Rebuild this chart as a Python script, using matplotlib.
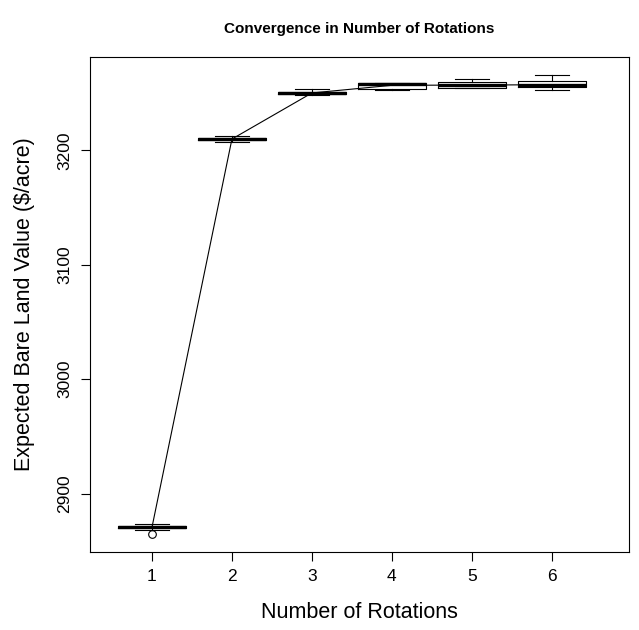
import numpy as np
import matplotlib
matplotlib.use("Agg")
import matplotlib.pyplot as plt

plt.rcParams['font.family'] = ['Liberation Sans', 'DejaVu Sans']

rotations = [1, 2, 3, 4, 5, 6]
# box summaries ($/acre)
q1 = [2869.6, 3208.8, 3249.3, 3253.9, 3254.8, 3255.4]
med = [2870.5, 3209.9, 3250.1, 3258.0, 3257.1, 3257.0]
q3 = [2871.4, 3211.0, 3251.0, 3258.8, 3259.4, 3260.6]
wlo = [2868.5, 3207.3, 3248.1, 3252.4, 3254.5, 3252.4]
whi = [2873.7, 3212.5, 3253.7, 3258.8, 3262.0, 3265.6]
outliers = [[2864.9], [], [], [], [], []]
means = [2870.4, 3209.9, 3250.2, 3256.9, 3257.1, 3257.4]

stats = []
for i in range(len(rotations)):
    stats.append(dict(med=med[i], q1=q1[i], q3=q3[i], whislo=wlo[i],
                      whishi=whi[i], fliers=outliers[i]))

fig = plt.figure(figsize=(6.39, 6.30), dpi=100)
ax = fig.add_axes([0.1408, 0.124, 0.843, 0.7855])

ax.bxp(stats, positions=rotations, widths=0.85, showfliers=True,
       boxprops=dict(color='black', linewidth=0.8),
       medianprops=dict(color='black', linewidth=2.4, solid_capstyle='butt'),
       whiskerprops=dict(color='black', linewidth=0.8),
       capprops=dict(color='black', linewidth=0.8),
       capwidths=0.43,
       flierprops=dict(marker='o', markerfacecolor='none', markeredgecolor='black',
                       markersize=5.5, markeredgewidth=0.8))
ax.plot(rotations, means, color='black', linewidth=0.8)

lo, hi = 2865.0, 3265.6
pad = 0.04 * (hi - lo)
ax.set_ylim(lo - pad, hi + pad)
ax.set_xlim(0.225, 6.96)

ax.set_xticks(rotations)
ax.set_xticklabels([str(r) for r in rotations])
ax.set_yticks([2900, 3000, 3100, 3200])
ax.set_yticklabels(['2900', '3000', '3100', '3200'], rotation=90, va='center')
ax.tick_params(axis='both', direction='out', length=6.5, width=0.8, labelsize=12.5, pad=6)
for s in ax.spines.values():
    s.set_linewidth(0.8)

ax.set_xlabel('Number of Rotations', fontsize=15.5, labelpad=13)
ax.set_ylabel('Expected Bare Land Value ($/acre)', fontsize=15.5, labelpad=16)
ax.set_title('Convergence in Number of Rotations', fontsize=11, fontweight='bold', pad=17)

fig.savefig('out.png', dpi=100)
